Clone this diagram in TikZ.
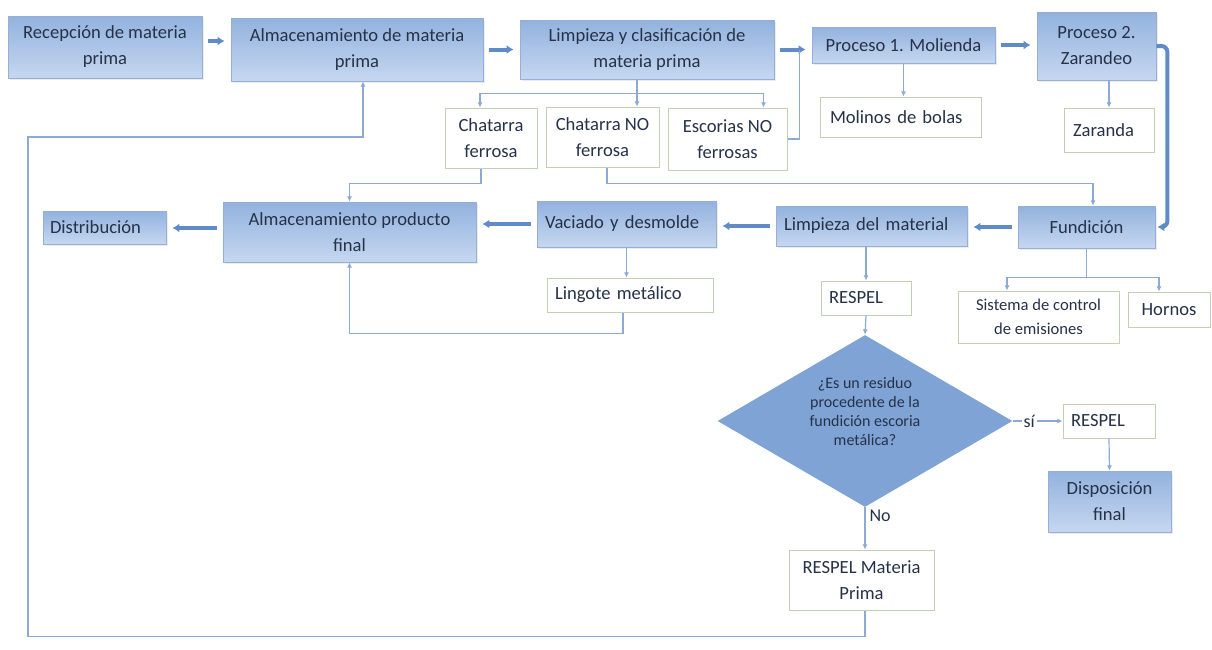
\documentclass[tikz,border=0pt]{standalone}
\usepackage{fontspec}
\setmainfont{Carlito}
\usetikzlibrary{arrows.meta,shapes.geometric,calc,shadows}

\definecolor{boxtop}{RGB}{146,178,222}
\definecolor{boxbottom}{RGB}{198,215,240}
\definecolor{boxline}{RGB}{150,175,212}
\definecolor{boxtext}{RGB}{38,50,72}
\definecolor{paleline}{RGB}{196,208,180}
\definecolor{linkblue}{RGB}{140,170,212}
\definecolor{flowblue}{RGB}{95,140,200}
\definecolor{decfill}{RGB}{126,163,212}

\begin{document}
\begin{tikzpicture}[x=0.5pt, y=-0.5pt, >={Latex[length=2.6pt,width=2.6pt]},
  bluebox/.style={draw=boxline, line width=0.4pt, top color=boxtop, bottom color=boxbottom,
    text=boxtext, align=center, inner sep=2pt, font=\fontsize{9.3}{13}\selectfont,
    drop shadow={opacity=0.15, shadow xshift=1pt, shadow yshift=-1pt}},
  whitebox/.style={draw=paleline, line width=0.5pt, fill=white, text=boxtext,
    align=center, inner sep=2pt, font=\fontsize{9.3}{13}\selectfont},
  flow/.style={draw=flowblue, line width=2pt, -{Latex[length=3.5pt,width=4.5pt]},
    shorten <=3pt, shorten >=3pt},
  link/.style={draw=linkblue, line width=0.6pt}]
\useasboundingbox (0,0) rectangle (1212,649);

% top row
\node[bluebox, minimum width=97pt, minimum height=31pt] (recep) at (105,47) {Recepción de materia\\prima};
\node[bluebox, minimum width=126pt, minimum height=31.5pt] (almmp) at (357,49.5) {Almacenamiento de materia\\prima};
\node[bluebox, minimum width=127pt, minimum height=29.5pt] (limcl) at (647,49.5) {Limpieza y clasificación de\\materia prima};
\node[bluebox, minimum width=91.5pt, minimum height=18pt] (proc1) at (903.5,45) {Proceso 1. Molienda};
\node[bluebox, minimum width=59.5pt, minimum height=34pt] (proc2) at (1096.5,46) {Proceso 2.\\Zarandeo};

\node[whitebox, text width=70.5pt, inner xsep=5pt, minimum height=20pt, align=left] (molinos) at (900.5,117) {Molinos de bolas};
\node[whitebox, text width=36pt, inner xsep=4.5pt, minimum height=22pt, align=left] (zaranda) at (1109,130) {Zaranda};
\node[whitebox, minimum width=46pt, minimum height=30pt] (chf) at (491,138) {Chatarra\\ferrosa};
\node[whitebox, minimum width=56.5pt, minimum height=30pt] (chnf) at (602.5,137) {Chatarra NO\\ferrosa};
\node[whitebox, minimum width=59.5pt, minimum height=31pt] (escnf) at (727.5,139) {Escorias NO\\ferrosas};

% middle row
\node[bluebox, text width=54.5pt, inner xsep=3.5pt, minimum height=16.5pt, align=left] (distrib) at (104.5,227.5) {Distribución};
\node[bluebox, minimum width=126.5pt, minimum height=30pt] (almpf) at (349.5,232) {Almacenamiento producto\\final};
\node[bluebox, text width=81.5pt, inner xsep=4pt, minimum height=23pt, align=left] (vaciado) at (626.5,224) {Vaciado y desmolde};
\node[bluebox, text width=87.5pt, inner xsep=4pt, minimum height=20pt, align=left] (limmat) at (871.5,226) {Limpieza del material};
\node[bluebox, minimum width=68.5pt, minimum height=21pt] (fund) at (1086.5,227) {Fundición};

\node[whitebox, minimum width=80.5pt, minimum height=26pt, font=\fontsize{8.3}{12}\selectfont] (sist) at (1038.5,317) {Sistema de control\\de emisiones};
\node[whitebox, minimum width=41pt, minimum height=17.5pt] (hornos) at (1169,309.5) {Hornos};
\node[whitebox, text width=75pt, inner xsep=4pt, minimum height=17pt, align=left] (lingote) at (630,295) {Lingote metálico};
\node[whitebox, text width=37pt, inner xsep=4pt, minimum height=17pt, align=left] (respel1) at (866,298) {RESPEL};

% decision
\node[diamond, aspect=1.7, fill=decfill, draw=none, inner sep=0pt, minimum width=147.5pt, minimum height=86pt,
  text=boxtext, align=center, font=\fontsize{8}{9.5}\selectfont] (dec) at (865,421) {¿Es un residuo\\procedente de la\\fundición escoria\\metálica?\\\mbox{}};
\node[whitebox, text width=38pt, inner xsep=4pt, minimum height=17pt, align=left] (respel2) at (1109,421) {RESPEL};
\node[bluebox, minimum width=61.5pt, minimum height=30.5pt] (dispo) at (1109.5,501.5) {Disposición\\final};
\node[whitebox, minimum width=72.5pt, minimum height=30pt] (respelmp) at (861.5,580) {RESPEL Materia\\Prima};

% main flow
\draw[flow] ([yshift=3pt]recep.east) -- ([yshift=3pt]recep.east -| almmp.west);
\draw[flow] (almmp.east) -- (almmp.east -| limcl.west);
\draw[flow] (limcl.east) -- (limcl.east -| proc1.west);
\draw[flow] (proc1.east) -- (proc1.east -| proc2.west);
\draw[flow, rounded corners=3pt, shorten <=0pt, shorten >=1pt] (proc2.east) -- ++(11,0) |- (fund.east);
\draw[flow] (fund.west) -- (fund.west -| limmat.east);
\draw[flow] (limmat.west) -- (limmat.west -| vaciado.east);
\draw[flow] (vaciado.west) -- (vaciado.west -| almpf.east);
\draw[flow] ([yshift=2pt]almpf.west) -- ([yshift=2pt]almpf.west -| distrib.east);

% branches
\draw[link,->] ([xshift=-5pt]limcl.south) -- ++(0,14) coordinate (split1) -- (split1 |- chnf.north);
\draw[link,->] (split1) -| ([xshift=-5.5pt]chf.north);
\draw[link,->] (split1) -| ([xshift=18pt]escnf.north);
\coordinate (join) at ($(limcl.east)!0.68!(limcl.east -| proc1.west)$);
\draw[link] (escnf.east) -| (join);
\draw[link,->] (proc1.south) -- (proc1.south |- molinos.north);
\draw[link,->] (zaranda.north |- proc2.south) -- (zaranda.north);
\draw[link,->] ([xshift=-5pt]chf.south) -- ++(0,15) -| (almpf.north);
\draw[link,->] ([xshift=2.25pt]chnf.south) -- ++(0,16) -| ([xshift=3.25pt]fund.north);
\draw[link] (fund.south) -- ++(0,29) coordinate (split2);
\draw[link,->] (split2) -| ([xshift=-15.75pt]sist.north);
\draw[link,->] (split2) -| ([xshift=-5pt]hornos.north);
\draw[link,->] (vaciado.south) -- (vaciado.south |- lingote.north);
\draw[link,->] ([xshift=-3.5pt]lingote.south) -- ++(0,21) -| (almpf.south);
\draw[link,->] (respel1.north |- limmat.south) -- (respel1.north);
\draw[link,->] (respel1.south) -- (dec.north);
\draw[link,->] (dec.east) -- node[pos=0.33, fill=white, inner sep=1pt, text=boxtext, font=\fontsize{9}{11}\selectfont] {sí} (respel2.west);
\draw[link,->] (respel2.south) -- (dispo.north);
\draw[link,->] (dec.south) -- node[pos=0.2, right, inner sep=2pt, text=boxtext, font=\fontsize{9}{11}\selectfont] {No} (dec.south |- respelmp.north);

% return to storage
\coordinate (loopc) at (28,137);
\draw[link,->] ([xshift=1.75pt]respelmp.south) -- ++(0,26) -| (loopc) -| ([xshift=3pt]almmp.south);
\end{tikzpicture}
\end{document}
